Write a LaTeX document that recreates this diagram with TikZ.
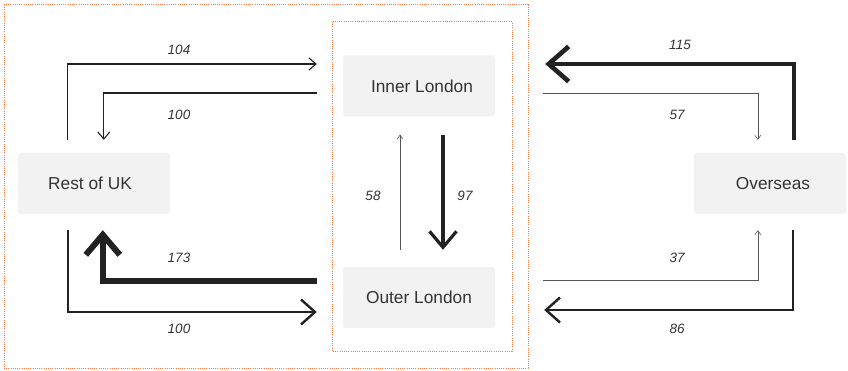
\documentclass[tikz,border=0pt]{standalone}
\usepackage{fontspec}
\setmainfont{Liberation Sans}
\usetikzlibrary{arrows.meta,calc}
\definecolor{dot}{HTML}{F07A48}
\definecolor{boxfill}{HTML}{F2F2F2}
\definecolor{ink}{HTML}{222222}
\definecolor{thin}{HTML}{555555}
\definecolor{txt}{HTML}{333333}
\tikzset{
  region/.style={draw=dot, line width=1pt, dash pattern=on 1pt off 1.2pt},
  place/.style={rectangle, rounded corners=3pt, fill=boxfill, minimum width=152pt, minimum height=61pt, inner sep=0pt, text=txt, font=\fontsize{17.3}{20}\selectfont},
  num/.style={text=txt, font=\fontsize{13.5}{16}\selectfont\itshape, inner sep=0pt},
  fa/.style={draw=thin, line width=0.6pt, -{Straight Barb[length=4pt,width=6pt]}},
  fb/.style={draw=ink, line width=1.1pt, -{Straight Barb[length=7pt,width=12pt]}},
  fc/.style={draw=ink, line width=2.4pt, -{Straight Barb[length=14pt,width=25pt]}},
  fd/.style={draw=ink, line width=3.2pt, -{Straight Barb[length=16pt,width=27pt]}},
  fe/.style={draw=ink, line width=4.6pt, -{Straight Barb[length=20pt,width=35pt]}},
  ff/.style={draw=ink, line width=6pt, -{Straight Barb[length=20pt,width=34pt]}},
}
\begin{document}
\begin{tikzpicture}[x=1pt,y=-1pt]
\useasboundingbox (0,0) rectangle (848,371);
\draw[region] (4,5) rectangle (528,368);
\draw[region] (332,22) rectangle (512,351);

\node[place] (ruk) at (94,183.5) {\hspace*{-8pt}Rest of UK};
\node[place] (il) at (419,86) {\hspace*{6pt}Inner London};
\node[place] (ol) at (419,297.5) {Outer London};
\node[place] (ov) at (770,183.5) {\hspace*{6pt}Overseas};

% Rest of UK <-> London
\draw[fb] ($(ruk.north west)+(50,-13)$) |- ($(il.west)+(-26,-22)$);
\draw[fb] ($(il.west)+(-26,7)$) -| ($(ruk.north west)+(86,-13)$);
\draw[ff] ($(ol.west)+(-26,-16.5)$) -| ($(ruk.south west)+(85,16)$);
\draw[fc] ($(ruk.south west)+(50,16)$) |- ($(ol.west)+(-26,14.5)$);

% Inner <-> Outer
\draw[fa] ($(ol.north)+(-19,-17)$) -- ($(il.south)+(-19,18)$);
\draw[fd] ($(il.south)+(24,18)$) -- ($(ol.north)+(24,-17)$);

% Overseas <-> London
\draw[fe] ($(ov.north west)+(100,-13)$) |- ($(il.east)+(50,-22)$);
\draw[fa] ($(il.east)+(48,7)$) -| ($(ov.north west)+(64,-13)$);
\draw[fa] ($(ol.east)+(48,-17.5)$) -| ($(ov.south west)+(64,16)$);
\draw[fc] ($(ov.south west)+(99,16)$) |- ($(ol.east)+(49,12.5)$);

% labels
\node[num] (l104) at (179,50) {104};
\node[num] (l100a) at (179,115) {100};
\node[num] (l173) at (179,258) {173};
\node[num] (l100b) at (179,329) {100};
\node[num] (l58) at (373,196) {58};
\node[num] (l97) at (465,196) {97};
\node[num] (l115) at (680,45) {115};
\node[num] (l57) at (677,115) {57};
\node[num] (l37) at (677,258) {37};
\node[num] (l86) at (677,329) {86};
\end{tikzpicture}
\end{document}
